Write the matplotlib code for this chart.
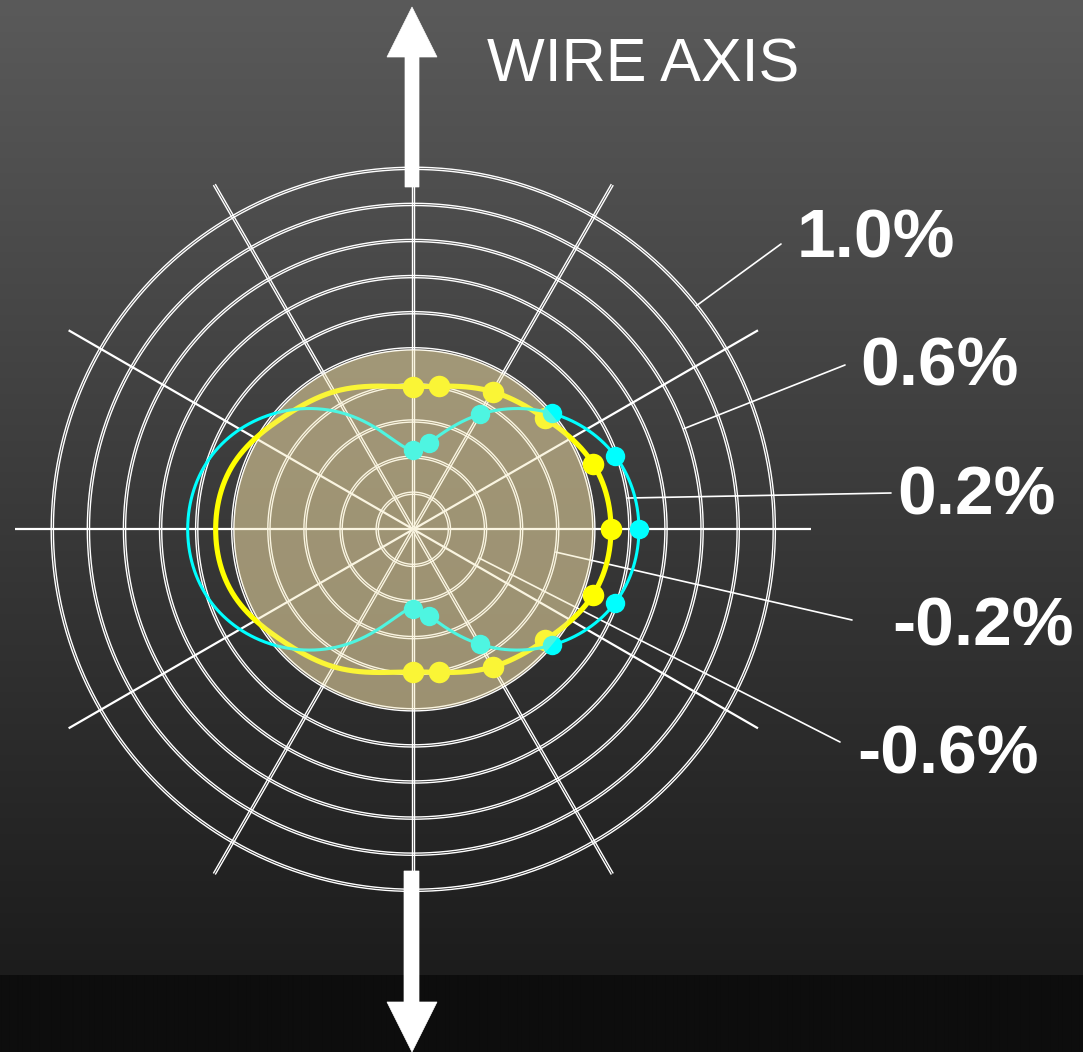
import numpy as np
import matplotlib
matplotlib.use("Agg")
import matplotlib.pyplot as plt
from matplotlib.patches import Polygon

# ---- data -------------------------------------------------------------
# concentric strain rings (percent); the centre of the plot is -1.0 %
ring_values = [-0.8, -0.6, -0.4, -0.2, 0.0, 0.2, 0.4, 0.6, 0.8, 1.0]
# rings that carry a label, with the label text
labelled_rings = [1.0, 0.6, 0.2, -0.2, -0.6]
ring_labels = ["1.0%", "0.6%", "0.2%", "-0.2%", "-0.6%"]

# radial spokes (degrees, 0 = right, counter-clockwise)
single_spokes = [0, 30, 150, 180, 210, 330]
double_spokes = [60, 90, 120, 240, 270, 300]

# measured strain around the wire (right half); the left half mirrors it
marker_angles = [90, 80, 60, 40, 20, 0, -20, -40, -60, -80, -90]
yellow_strain = [-0.21, -0.195, -0.12, -0.045, 0.06, 0.095,
                 0.06, -0.045, -0.12, -0.195, -0.21]
cyan_strain = [-0.56, -0.515, -0.265, 0.0, 0.19, 0.25,
               0.19, 0.0, -0.265, -0.515, -0.56]

# ---- figure geometry ----------------------------------------------------
W, H = 1083, 1052
DPI = 100
CX, CY = 413.3, 529.3          # centre of the polar grid (pixels from top-left)
SCALE = 180.5                  # pixels per 1 % of strain
R_MIN, R_MAX = -1.0, 1.25
PX = 1.0 / SCALE               # one pixel in radial units

fig = plt.figure(figsize=(W / DPI, H / DPI), dpi=DPI)


def fx(x):
    return x / W


def fy(y):
    return 1 - y / H


# background: vertical grey gradient with a dark band at the bottom
bg = fig.add_axes([0, 0, 1, 1], zorder=0)
rows = np.arange(H)
grey = np.where(rows < 975, 90 - (90 - 28) * rows / 975.0, 13) / 255.0
img = np.repeat(grey[:, None], 4, axis=1)
bg.imshow(np.dstack([img, img, img]), aspect="auto", extent=[0, W, H, 0],
          interpolation="bilinear")
bg.set_xlim(0, W)
bg.set_ylim(H, 0)
bg.set_axis_off()

# polar axes
rad_px = (R_MAX - R_MIN) * SCALE
ax = fig.add_axes([fx(CX - rad_px), (H - CY - rad_px) / H,
                   2 * rad_px / W, 2 * rad_px / H],
                  projection="polar", zorder=1)
ax.set_facecolor("none")
ax.set_ylim(R_MIN, R_MAX)
ax.set_axis_off()

theta = np.linspace(0, 2 * np.pi, 1441)

# zero-strain disc (under the grid)
ax.fill_between(theta, R_MIN, 0.0, color=(162 / 255, 148 / 255, 118 / 255),
                alpha=0.6, lw=0, zorder=1)

# double-line rings
for v in ring_values:
    for off in (-1.1, 1.1):
        ax.plot(theta, np.full_like(theta, v + off * PX), color="white",
                lw=1.0, zorder=2, solid_capstyle="butt")

# spokes
spoke_len = 398.0 / SCALE       # distance from the centre, in radial units
for a in single_spokes:
    t = np.deg2rad(a)
    ax.plot([t, t], [R_MIN, R_MIN + spoke_len], color="white", lw=1.6,
            zorder=2, solid_capstyle="butt")

s = np.linspace(1.5 * PX, spoke_len, 300)
for a in double_spokes:
    t = np.deg2rad(a)
    for sign in (-1.0, 1.0):
        d = sign * 1.1 * PX
        rho = np.sqrt(s ** 2 + d ** 2)
        phi = t + np.arctan2(d, s)
        ax.plot(phi, R_MIN + rho, color="white", lw=1.0, zorder=2,
                solid_capstyle="butt")


# smooth closed curve through the measured points (periodic cubic spline)
def closed_curve(angles_deg, values, n=1441):
    pts = {}
    for a, v in zip(angles_deg, values):
        pts[a % 360.0] = v
        pts[(180.0 - a) % 360.0] = v
    x = np.array(sorted(pts))
    y = np.array([pts[k] for k in x])
    m = len(x)
    xe = np.append(x, x[0] + 360.0)
    h = np.diff(xe)
    A = np.zeros((m, m))
    b = np.zeros(m)
    for i in range(m):
        hp, hn = h[i - 1], h[i]
        A[i, i - 1] += hp
        A[i, i] += 2 * (hp + hn)
        A[i, (i + 1) % m] += hn
        b[i] = 6 * ((y[(i + 1) % m] - y[i]) / hn - (y[i] - y[i - 1]) / hp)
    M = np.linalg.solve(A, b)
    t = np.linspace(x[0], x[0] + 360.0, n)
    idx = np.clip(np.searchsorted(xe, t, side="right") - 1, 0, m - 1)
    x0, x1 = xe[idx], xe[idx + 1]
    hh = x1 - x0
    y0, y1 = y[idx], y[(idx + 1) % m]
    m0, m1 = M[idx], M[(idx + 1) % m]
    r = (m0 * (x1 - t) ** 3 / (6 * hh) + m1 * (t - x0) ** 3 / (6 * hh)
         + (y0 / hh - m0 * hh / 6) * (x1 - t) + (y1 / hh - m1 * hh / 6) * (t - x0))
    return np.deg2rad(t), r


th_y, r_y = closed_curve(marker_angles, yellow_strain)
th_c, r_c = closed_curve(marker_angles, cyan_strain)
ma = np.deg2rad(marker_angles)

ax.plot(th_y, r_y, color="#ffff00", lw=3.7, zorder=3)
ax.plot(ma, yellow_strain, "o", color="#ffff00", ms=15.5, mew=0, zorder=3.5)
ax.plot(th_c, r_c, color="#00ffff", lw=2.2, zorder=4)
ax.plot(ma, cyan_strain, "o", color="#00ffff", ms=14, mew=0, zorder=4.5)

# leader lines from the rings to their labels
leader_angles = [38.3, 20.4, 8.3, -9.1, -23.6]
leader_ends = [(781, 244), (845, 365), (891, 493), (852, 620), (840, 742)]
label_pos = [(797, 258), (860, 386), (897, 515), (892, 645), (857, 773)]
for v, a, (ex, ey) in zip(labelled_rings, leader_angles, leader_ends):
    ax.annotate("", xy=(np.deg2rad(a), v), xycoords="data",
                xytext=(ex, H - ey), textcoords="figure pixels",
                arrowprops=dict(arrowstyle="-", color="white", lw=1.2,
                                shrinkA=0, shrinkB=0),
                zorder=2, annotation_clip=False)

# translucent light overlay on the zero-strain disc
ax.fill_between(theta, R_MIN, -0.7 * PX, color=(240 / 255, 225 / 255, 165 / 255),
                alpha=0.33, lw=0, zorder=6)

# labels
for txt, (lx, ly) in zip(ring_labels, label_pos):
    fig.text(fx(lx), fy(ly), txt, color="white", fontsize=50,
             fontweight="bold", family="Liberation Sans",
             ha="left", va="baseline", zorder=10)

fig.text(fx(487), fy(81), "WIRE AXIS", color="white", fontsize=44,
         family="Liberation Sans", ha="left", va="baseline", zorder=10)

# wire-axis arrows
up = [(405, 187), (405, 57), (387, 57), (412, 7), (437, 57), (419, 57), (419, 187)]
down = [(404, 871), (404, 1002), (387, 1002), (412, 1052), (437, 1002),
        (419, 1002), (419, 871)]
for verts in (up, down):
    fig.add_artist(Polygon([(fx(x), fy(y)) for x, y in verts], closed=True,
                           facecolor="white", edgecolor="white", lw=0.5,
                           transform=fig.transFigure, zorder=10))

fig.savefig("out.png", dpi=DPI)
